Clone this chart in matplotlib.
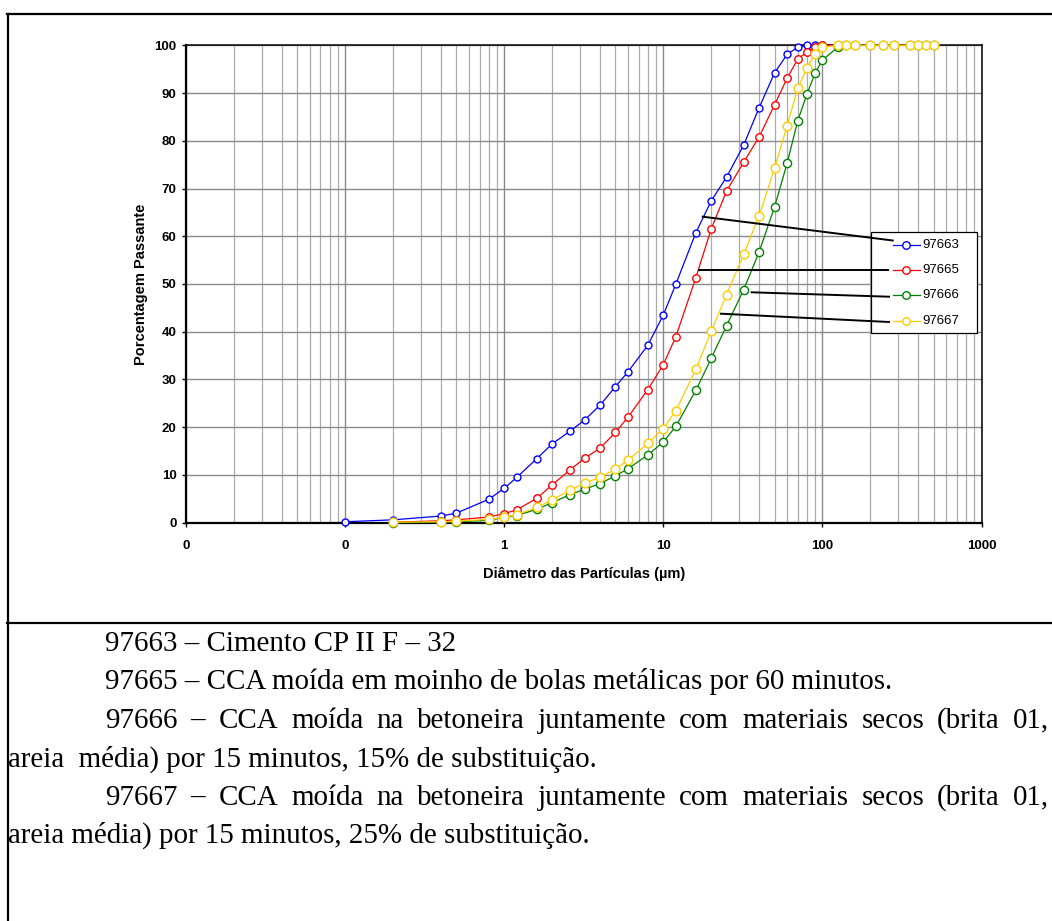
import numpy as np
import matplotlib
matplotlib.use("Agg")
import matplotlib.pyplot as plt
from matplotlib.lines import Line2D
from matplotlib.patches import Rectangle
from matplotlib.ticker import LogLocator, NullFormatter

# particle size classes (um) and cumulative passing (%)
diam = [0.1, 0.2, 0.4, 0.5, 0.8, 1.0, 1.2, 1.6, 2.0, 2.6, 3.2, 4.0, 5.0, 6.0, 8.0,
        10, 12, 16, 20, 25, 32, 40, 50, 60, 70, 80, 90, 100,
        125, 140, 160, 200, 240, 280, 355, 400, 450, 500]
p97663 = [0.2, 0.6, 1.4, 2.0, 4.9, 7.2, 9.5, 13.4, 16.5, 19.2, 21.5, 24.6, 28.5, 31.6, 37.2,
          43.5, 50.0, 60.7, 67.4, 72.4, 79.1, 86.9, 94.2, 98.1, 99.6, 100, 100, 100,
          100, 100, 100, 100, 100, 100, 100, 100, 100, 100]
p97665 = [np.nan, 0.1, 0.4, 0.6, 1.2, 1.9, 2.7, 5.1, 7.9, 11.1, 13.5, 15.6, 18.9, 22.1, 27.9,
          33.1, 39.0, 51.3, 61.5, 69.5, 75.5, 80.8, 87.5, 93.1, 97.1, 98.6, 99.7, 100,
          100, 100, 100, 100, 100, 100, 100, 100, 100, 100]
p97666 = [np.nan, 0.0, 0.1, 0.2, 0.5, 1.1, 1.5, 2.8, 4.2, 5.9, 7.0, 8.2, 9.8, 11.3, 14.2,
          16.9, 20.2, 27.7, 34.4, 41.3, 48.8, 56.7, 66.1, 75.3, 84.2, 89.8, 94.2, 96.9,
          99.6, 100, 100, 100, 100, 100, 100, 100, 100, 100]
p97667 = [np.nan, 0.1, 0.2, 0.3, 0.7, 1.1, 1.7, 3.2, 4.8, 6.8, 8.3, 9.5, 11.2, 13.1, 16.6,
          19.7, 23.5, 32.1, 40.1, 47.8, 56.2, 64.3, 74.2, 83.2, 91.0, 95.3, 98.2, 99.6,
          100, 100, 100, 100, 100, 100, 100, 100, 100, 100]
labels = ["97663", "97665", "97666", "97667"]
xtick_vals = [0.01, 0.1, 1, 10, 100, 1000]
xtick_labels = ["0", "0", "1", "10", "100", "1000"]

notes = [
    "97663 – Cimento CP II F – 32",
    "97665 – CCA moída em moinho de bolas metálicas por 60 minutos.",
    "97666 – CCA moída na betoneira juntamente com materiais secos (brita 01,",
    "areia  média) por 15 minutos, 15% de substituição.",
    "97667 – CCA moída na betoneira juntamente com materiais secos (brita 01,",
    "areia média) por 15 minutos, 25% de substituição.",
]

colors = ["#0000FF", "#FF0000", "#008000", "#FFCC00"]
msizes = [5.0, 5.4, 5.9, 6.3]

W, H = 1052, 921
fig = plt.figure(figsize=(W / 100, H / 100), dpi=100)
plt.rcParams["font.family"] = ["Liberation Sans", "DejaVu Sans"]


def fx(x):
    return x / W


def fy(y):
    return 1 - y / H


ax = fig.add_axes([fx(186), fy(522.7), (981.5 - 186) / W, (522.7 - 45.3) / H])
ax.set_xscale("log")
ax.set_xlim(0.01, 1000)
ax.set_ylim(0, 100)

series = [p97663, p97665, p97666, p97667]
for vals, c, ms in zip(series, colors, msizes):
    ax.plot(diam, vals, color=c, lw=0.9, marker="o", ms=ms, mfc="white",
            mec=c, mew=1.0, clip_on=False, zorder=4)

ax.set_xticks(xtick_vals)
ax.set_xticklabels(xtick_labels)
ax.xaxis.set_minor_locator(LogLocator(base=10, subs=np.arange(2, 10)))
ax.xaxis.set_minor_formatter(NullFormatter())
ax.set_yticks(range(0, 101, 10))
ax.tick_params(which="major", length=3.2, width=1.0, labelsize=9.5)
ax.tick_params(axis="x", pad=9)
ax.tick_params(axis="y", pad=3.5)
ax.tick_params(which="minor", length=0)
for lab in ax.get_xticklabels() + ax.get_yticklabels():
    lab.set_fontweight("bold")

ax.grid(True, which="major", color="#8a8a8a", lw=1.0)
ax.grid(True, which="minor", axis="x", color="#ababab", lw=0.9)
ax.set_axisbelow(True)
for s in ("left", "bottom"):
    ax.spines[s].set_linewidth(1.6)
for s in ("top", "right"):
    ax.spines[s].set_linewidth(1.1)

ax.set_xlabel("Diâmetro das Partículas (µm)", fontsize=10.5, fontweight="bold", labelpad=11)
ax.set_ylabel("Porcentagem Passante", fontsize=10.5, fontweight="bold", labelpad=5)

# legend box drawn by hand to match the Excel layout
fig.add_artist(Rectangle((fx(870.7), fy(332.7)), (977.3 - 870.7) / W, (332.7 - 231.7) / H,
                         transform=fig.transFigure, facecolor="white",
                         edgecolor="black", lw=0.9, zorder=5))
leg_y = [245, 270, 295.5, 321]
for lab, c, yy in zip(labels, colors, leg_y):
    fig.add_artist(Line2D([fx(892.7), fx(920)], [fy(yy), fy(yy)], color=c, lw=0.9,
                          transform=fig.transFigure, zorder=6))
    fig.add_artist(Line2D([fx(906.3)], [fy(yy)], color=c, marker="o", ms=5.4, mfc="white",
                          mec=c, mew=1.0, transform=fig.transFigure, zorder=7))
    fig.text(fx(922.7), fy(yy), lab, fontsize=9.5, va="center", ha="left", zorder=7)

leaders = [((702.7, 216.7), (892.7, 240.5)),
           ((699.0, 270.0), (888.3, 270.0)),
           ((751.7, 292.3), (889.0, 296.7)),
           ((721.0, 313.7), (889.0, 322.0))]
for (x0, y0), (x1, y1) in leaders:
    fig.add_artist(Line2D([fx(x0), fx(x1)], [fy(y0), fy(y1)], color="black", lw=1.4,
                          transform=fig.transFigure, zorder=8))

# table frame
frame_kw = dict(color="black", lw=1.6, transform=fig.transFigure, zorder=9)
fig.add_artist(Line2D([fx(6.8), fx(W)], [fy(14), fy(14)], **frame_kw))
fig.add_artist(Line2D([fx(7.5), fx(7.5)], [fy(14), fy(H)], **frame_kw))
fig.add_artist(Line2D([fx(6.8), fx(W)], [fy(622.5), fy(622.5)], **frame_kw))

# caption paragraphs (Times-like serif)
serif = dict(family=["Liberation Serif", "DejaVu Serif"], fontsize=20.9, va="baseline")
base = [651, 689.4, 727.8, 766.2, 804.6, 843]
starts = [105, 105, 105, 8, 105, 8]
justified = [False, False, True, False, True, False]
renderer = fig.canvas.get_renderer()
for txt, yb, xs, jus in zip(notes, base, starts, justified):
    if not jus:
        fig.text(fx(xs), fy(yb), txt, **serif)
        continue
    words = txt.split()
    objs = [fig.text(0, fy(yb), w, **serif) for w in words]
    widths = [o.get_window_extent(renderer).width for o in objs]
    gap = (1049 - xs - sum(widths)) / (len(objs) - 1)
    x = xs
    for o, w in zip(objs, widths):
        o.set_x(fx(x))
        x += w + gap

fig.savefig("out.png", dpi=100)
